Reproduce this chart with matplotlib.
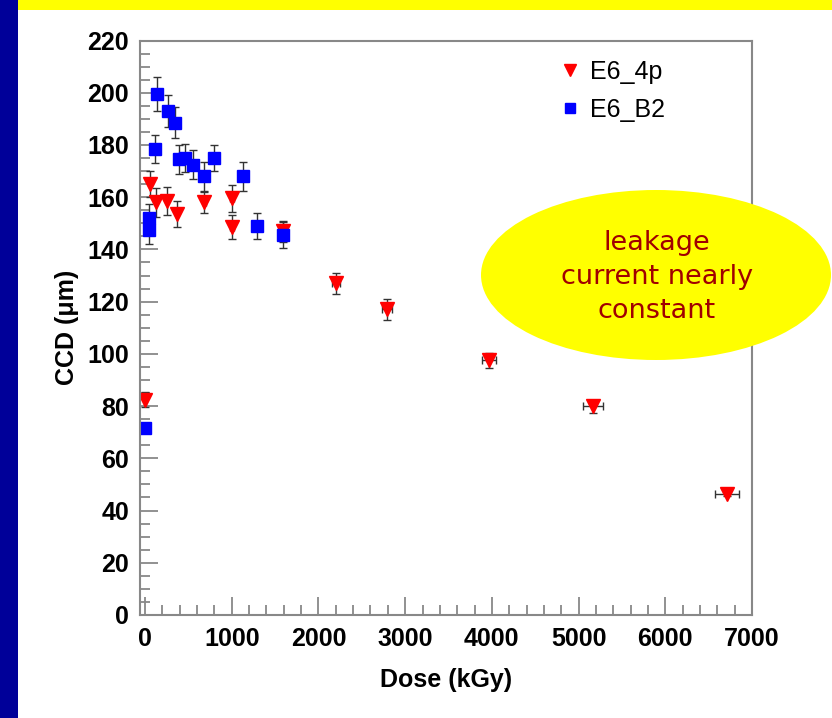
import matplotlib
matplotlib.use("Agg")
import matplotlib.pyplot as plt
from matplotlib.patches import Ellipse, Rectangle
from matplotlib.lines import Line2D
from matplotlib.ticker import MultipleLocator

# E6_4p sample (red triangles)
dose_4p = [0, 58, 125, 250, 365, 685, 1005, 1005, 1595, 2205, 2790, 3970, 5165, 6710]
ccd_4p = [82.5, 165, 158, 158.5, 153.5, 158, 159.5, 148.5, 147, 127, 117, 97.5, 80, 46.5]
ccd_4p_err = [3, 5, 5.5, 5.5, 5, 4, 5, 4.5, 4, 4, 4, 3, 2.5, 1]
dose_4p_err = [0, 1, 2, 5, 7, 14, 20, 20, 32, 44, 56, 80, 113, 142]

# E6_B2 sample (blue squares)
dose_b2 = [0, 45, 45, 115, 140, 270, 345, 390, 460, 555, 685, 800, 1135, 1290, 1595]
ccd_b2 = [71.5, 152, 147.5, 178.5, 199.5, 193, 188.5, 174.5, 175, 172.5, 168, 175, 168, 149, 145.5]
ccd_b2_err = [1, 5.5, 5.5, 5.5, 6.5, 6, 6, 5.5, 5.5, 5.5, 5.5, 5, 5.5, 5, 5]

note = "leakage\ncurrent nearly\nconstant"

plt.rcParams['font.family'] = ['Liberation Sans', 'DejaVu Sans']

fig = plt.figure(figsize=(8.32, 7.18), dpi=100)
ax = fig.add_axes([140 / 832, 1 - 615 / 718, 612 / 832, 574.5 / 718])

err_kw = dict(ecolor="#333333", elinewidth=1.0, capsize=3, capthick=1.0, linestyle="none")
ax.errorbar(dose_4p, ccd_4p, yerr=ccd_4p_err, xerr=dose_4p_err, fmt="v",
            color="#ff0000", markersize=10, markeredgecolor="#ff0000", **err_kw)
ax.errorbar(dose_b2, ccd_b2, yerr=ccd_b2_err, fmt="s",
            color="#0000ff", markersize=9, markeredgecolor="#0000ff", **err_kw)

ax.set_xlim(-58, 7000)
ax.set_ylim(0, 220)
ax.xaxis.set_major_locator(MultipleLocator(1000))
ax.xaxis.set_minor_locator(MultipleLocator(200))
ax.yaxis.set_major_locator(MultipleLocator(20))
ax.yaxis.set_minor_locator(MultipleLocator(5))

frame_col = "#888888"
for s in ax.spines.values():
    s.set_color(frame_col)
    s.set_linewidth(1.5)
ax.tick_params(which="both", direction="in", color=frame_col, width=1.3,
               top=False, right=False)
ax.tick_params(which="major", length=13)
ax.tick_params(which="minor", length=7)
ax.tick_params(axis="y", pad=8)
ax.tick_params(axis="x", pad=9)
for lab in ax.get_xticklabels() + ax.get_yticklabels():
    lab.set_fontsize(18)
    lab.set_fontweight("bold")

ax.set_xlabel("Dose (kGy)", fontsize=18, fontweight="bold", labelpad=12)
ax.set_ylabel("CCD (\u03bcm)", fontsize=18, fontweight="bold", labelpad=6)

handles = [Line2D([], [], marker="v", color="#ff0000", linestyle="none", markersize=8),
           Line2D([], [], marker="s", color="#0000ff", linestyle="none", markersize=7)]
ax.legend(handles, ["E6_4p", "E6_B2"], loc="upper left",
          bbox_to_anchor=(0.646, 1.006), frameon=False, fontsize=18,
          handletextpad=0.3, labelspacing=0.58, handlelength=1.0)

# slide decoration and the annotation bubble, in pixel coordinates
over = fig.add_axes([0, 0, 1, 1])
over.set_xlim(0, 832)
over.set_ylim(718, 0)
over.axis("off")
over.add_patch(Rectangle((0, 0), 18, 718, color="#000099", lw=0))
over.add_patch(Rectangle((18, 0), 814, 10, color="#ffff00", lw=0))
over.add_patch(Ellipse((656, 275), 350, 170, color="#ffff00", lw=0))
over.text(657, 277, note, ha="center", va="center", fontsize=19.5,
          color="#a00000", linespacing=1.42, family=["DejaVu Sans"])

fig.savefig("out.png", dpi=100)
